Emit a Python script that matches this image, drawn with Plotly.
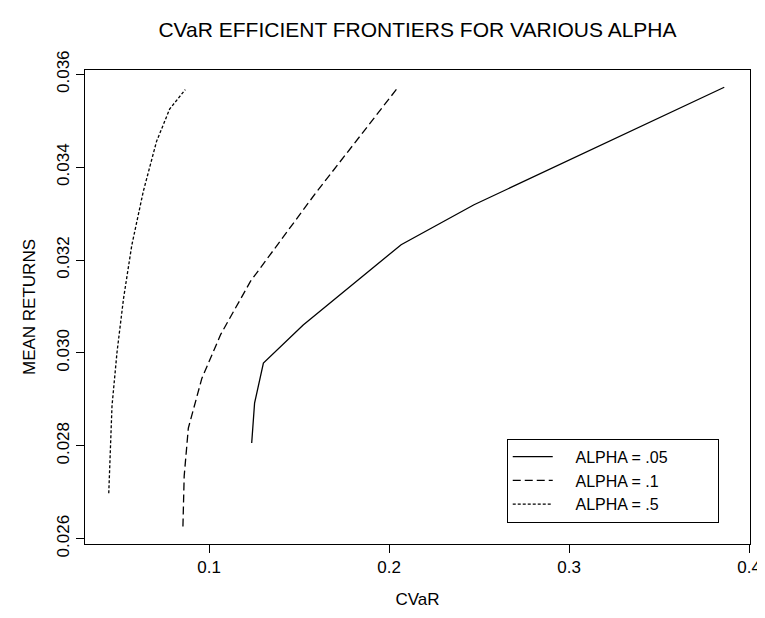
import plotly.graph_objects as go

# ALPHA = .05 (solid)
cvar_05 = [0.1237, 0.1253, 0.1302, 0.1523, 0.2067, 0.2472, 0.3862]
ret_05 = [0.02806, 0.02892, 0.02978, 0.03060, 0.03233, 0.03319, 0.03572]

# ALPHA = .1 (dashed)
cvar_10 = [0.0855, 0.0862, 0.0885, 0.0960, 0.1065, 0.1230, 0.1590, 0.2048]
ret_10 = [0.02626, 0.02735, 0.02838, 0.02945, 0.03040, 0.03154, 0.03343, 0.03571]

# ALPHA = .5 (dotted)
cvar_50 = [0.0443, 0.0452, 0.0461, 0.0489, 0.0525, 0.0571, 0.0635, 0.0708, 0.0781, 0.0868]
ret_50 = [0.02698, 0.02800, 0.02886, 0.03002, 0.03117, 0.03232, 0.03348, 0.03455, 0.03525, 0.03567]

series_names = ["ALPHA = .05", "ALPHA = .1", "ALPHA = .5"]

x_ticks = [0.1, 0.2, 0.3, 0.4]
x_ticklabels = ["0.1", "0.2", "0.3", "0.4"]
y_ticks = [0.026, 0.028, 0.030, 0.032, 0.034, 0.036]
y_ticklabels = ["0.026", "0.028", "0.030", "0.032", "0.034", "0.036"]

FONT = "Liberation Sans, Arial, sans-serif"
NB = "\u00a0"


def legend_label(s):
    # pad the legend entry so the box is as wide as the original's
    return NB * 4 + s + NB * 10


fig = go.Figure()
fig.add_trace(go.Scatter(x=cvar_05, y=ret_05, mode="lines", name=legend_label(series_names[0]),
                         line=dict(color="black", width=1.3, dash="solid")))
fig.add_trace(go.Scatter(x=cvar_10, y=ret_10, mode="lines", name=legend_label(series_names[1]),
                         line=dict(color="black", width=1.3, dash="8px,4px")))
fig.add_trace(go.Scatter(x=cvar_50, y=ret_50, mode="lines", name=legend_label(series_names[2]),
                         line=dict(color="black", width=1.3, dash="3px,2px")))

fig.update_layout(
    width=765, height=618,
    margin=dict(l=77, r=15, t=62, b=82),
    paper_bgcolor="white", plot_bgcolor="white",
    font=dict(family=FONT, color="black", size=17),
    title=dict(text="CVaR EFFICIENT FRONTIERS FOR VARIOUS ALPHA",
               x=0.5, xref="paper", xanchor="center",
               y=1 - 22 / 618, yref="container", yanchor="middle",
               font=dict(size=21, family=FONT, color="black")),
    showlegend=True,
    legend=dict(x=0.953, y=0.045, xref="paper", yref="paper",
                xanchor="right", yanchor="bottom",
                bordercolor="black", borderwidth=1, bgcolor="white",
                font=dict(size=16, family=FONT, color="black"),
                tracegroupgap=0, itemwidth=40),
)

fig.update_xaxes(range=[0.0311, 0.4005], tickvals=x_ticks, ticktext=x_ticklabels,
                 showgrid=False, zeroline=False, showline=True, mirror=True,
                 linecolor="black", linewidth=1, ticks="outside", ticklen=8,
                 tickcolor="black", tickfont=dict(size=17),
                 title=dict(text="CVaR", font=dict(size=17), standoff=16))
fig.update_yaxes(range=[0.025885, 0.036092], tickvals=y_ticks, ticktext=y_ticklabels,
                 showgrid=False, zeroline=False, showline=True, mirror=True,
                 linecolor="black", linewidth=1, ticks="outside", ticklen=8,
                 tickcolor="black", tickangle=-90, tickfont=dict(size=17),
                 title=dict(text="MEAN RETURNS", font=dict(size=17), standoff=14))

fig.write_html("out.html")
